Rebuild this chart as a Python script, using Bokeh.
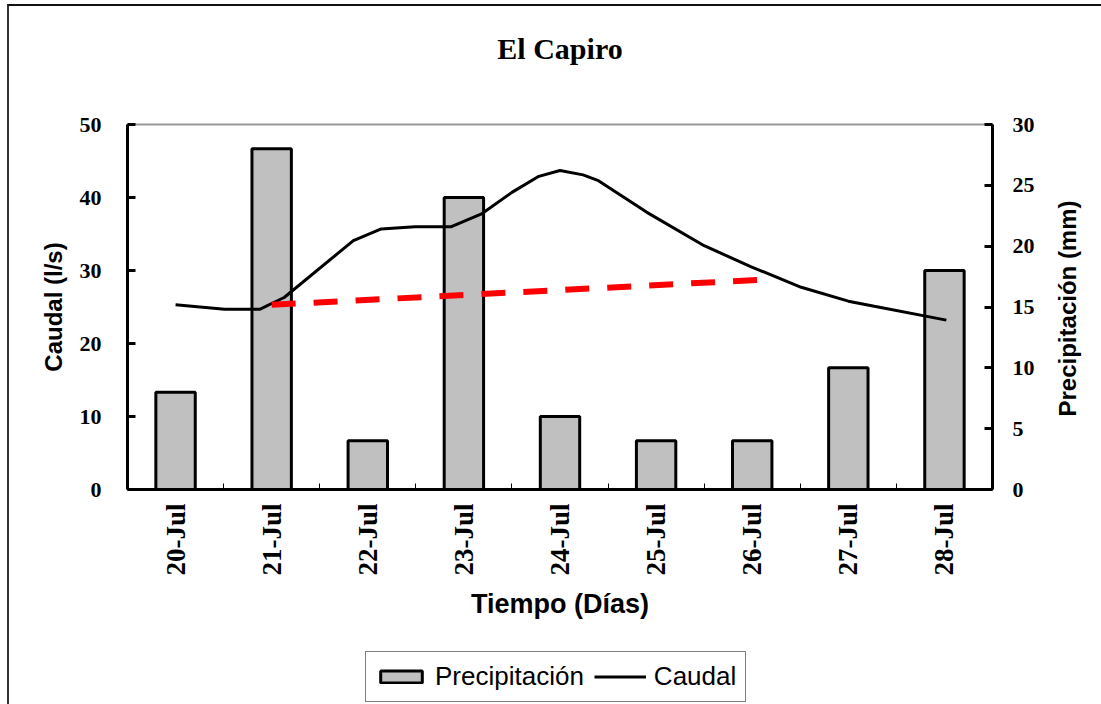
import math

from bokeh.plotting import figure
from bokeh.layouts import column
from bokeh.models import (Range1d, LinearAxis, FixedTicker, Legend, LegendItem,
                          Title)
from bokeh.embed import file_html
from bokeh.resources import INLINE

# Days of the sampling campaign
fechas = ["20-Jul", "21-Jul", "22-Jul", "23-Jul", "24-Jul",
          "25-Jul", "26-Jul", "27-Jul", "28-Jul"]
# Daily rainfall (mm)
precipitacion = [8, 28, 4, 24, 6, 4, 4, 10, 18]

# Discharge readings: time in days from 20-Jul, flow in l/s
caudal_t = [0.0, 0.51, 0.88, 1.13, 1.85, 2.14, 2.49, 2.87, 3.19, 3.50, 3.78,
            4.0, 4.24, 4.40, 4.90, 5.50, 5.99, 6.51, 7.0, 7.27, 8.02]
caudal = [25.3, 24.7, 24.7, 26.3, 34.1, 35.7, 36.0, 36.0, 37.8, 40.7, 42.9,
          43.7, 43.1, 42.3, 38.0, 33.4, 30.5, 27.7, 25.8, 25.1, 23.2]

# Discharge trend line
tendencia_t = [1.0, 6.05]
tendencia = [25.3, 28.7]

dias = list(range(len(fechas)))

SERIF = "Liberation Serif"
SANS = "Liberation Sans"

BAR_STYLE = dict(fill_color="#C0C0C0", line_color="black", line_width=3)
LINE_STYLE = dict(line_color="black", line_width=3)

# Rainfall level where the rotated right-hand title starts (it reads upward)
INICIO_TITULO_PRECIP = 6


def franja(height):
    """Blank strip used to hold the title or the legend."""
    f = figure(width=1092, height=height, output_backend="svg",
               toolbar_location=None, x_range=Range1d(0, 1),
               y_range=Range1d(0, 1), min_border=0,
               x_axis_location=None, y_axis_location=None)
    f.grid.visible = False
    f.outline_line_color = None
    f.border_fill_color = "white"
    f.background_fill_color = "white"
    return f


# Title strip
pt = franja(90)
pt.add_layout(Title(text="El Capiro", align="center", vertical_align="top",
                    text_font=SERIF, text_font_style="bold",
                    text_font_size="30px", text_color="black",
                    standoff=50), "above")

# Main chart
p = figure(width=1092, height=549, output_backend="svg", toolbar_location=None,
           x_range=Range1d(-0.5, len(fechas) - 0.5), y_range=Range1d(0, 50),
           min_border_left=118, min_border_right=109,
           min_border_top=28, min_border_bottom=156,
           x_axis_location=None, y_axis_location=None)
p.extra_y_ranges = {"precip": Range1d(0, 30)}
p.grid.visible = False
p.outline_line_color = "#999999"
p.outline_line_width = 2
p.background_fill_color = "white"
p.border_fill_color = "white"

# Rainfall bars on the secondary axis
p.vbar(x=dias, top=precipitacion, width=0.41, bottom=0,
       y_range_name="precip", **BAR_STYLE)

# Discharge curve and its trend
p.line(caudal_t, caudal, **LINE_STYLE)
p.line(tendencia_t, tendencia, line_color="#FF0000", line_width=6,
       line_dash="24 18")

# Axes
ax_x = LinearAxis(ticker=FixedTicker(ticks=dias,
                                     minor_ticks=[d - 0.5 for d in dias] + [len(dias) - 0.5]),
                  major_label_overrides={d: f for d, f in zip(dias, fechas)},
                  major_label_orientation=math.pi / 2,
                  axis_label="Tiempo (Días)")
ax_y = LinearAxis(ticker=FixedTicker(ticks=[0, 10, 20, 30, 40, 50]),
                  axis_label="Caudal (l/s)")
ax_y2 = LinearAxis(y_range_name="precip",
                   ticker=FixedTicker(ticks=[0, 5, 10, 15, 20, 25, 30]))
# Title of the rainfall axis, written upward as a single rotated label
ax_y2_titulo = LinearAxis(y_range_name="precip",
                          ticker=FixedTicker(ticks=[INICIO_TITULO_PRECIP]),
                          major_label_overrides={INICIO_TITULO_PRECIP: "Precipitación (mm)"},
                          major_label_orientation=math.pi / 2)

for ax in (ax_x, ax_y, ax_y2, ax_y2_titulo):
    ax.axis_line_color = "black"
    ax.axis_line_width = 3
    ax.major_tick_line_color = "black"
    ax.major_tick_line_width = 3
    ax.major_tick_in = 8
    ax.major_tick_out = 0
    ax.minor_tick_in = 0
    ax.minor_tick_out = 0
    ax.major_label_text_font = SERIF
    ax.major_label_text_font_style = "bold"
    ax.major_label_text_font_size = "22px"
    ax.major_label_text_color = "black"
    ax.axis_label_text_font = SANS
    ax.axis_label_text_font_style = "bold"
    ax.axis_label_text_font_size = "24px"
    ax.axis_label_text_color = "black"

ax_x.major_tick_in = 0
ax_x.minor_tick_in = 6
ax_x.minor_tick_line_color = "black"
ax_x.minor_tick_line_width = 1
ax_x.major_label_text_font_size = "27px"
ax_x.major_label_standoff = 14
ax_x.axis_label_text_font_size = "27px"
ax_x.axis_label_standoff = 10

ax_y.major_label_standoff = 26
ax_y.axis_label_standoff = 10
ax_y2.major_label_standoff = 20

ax_y2_titulo.axis_line_color = None
ax_y2_titulo.major_tick_line_color = None
ax_y2_titulo.minor_tick_line_color = None
ax_y2_titulo.major_tick_in = 0
ax_y2_titulo.major_label_text_font = SANS
ax_y2_titulo.major_label_text_font_size = "24px"
ax_y2_titulo.major_label_standoff = 30

p.add_layout(ax_x, "below")
p.add_layout(ax_y, "left")
p.add_layout(ax_y2, "right")
p.add_layout(ax_y2_titulo, "right")

# Legend strip: hidden copies of the two series supply the swatches
pl = franja(59)
ley_barra = pl.vbar(x=dias, top=precipitacion, width=0.41, visible=False,
                    **BAR_STYLE)
ley_linea = pl.line(caudal_t, caudal, visible=False, **LINE_STYLE)
legend = Legend(items=[LegendItem(label="Precipitación", renderers=[ley_barra]),
                       LegendItem(label="Caudal", renderers=[ley_linea])],
                orientation="horizontal", location=(238, 2),
                label_text_font=SANS, label_text_font_size="26px",
                label_text_color="black", glyph_width=52, glyph_height=15,
                label_standoff=8, spacing=10, padding=9, margin=0,
                border_line_color="black", border_line_width=1,
                background_fill_color="white", background_fill_alpha=1)
pl.add_layout(legend, "center")

grafico = column(pt, p, pl, spacing=0, margin=(4, 0, 0, 7),
                 styles={"border-top": "2px solid #111111",
                         "border-left": "2px solid #333333"})

open("out.html", "w").write(file_html(grafico, INLINE))
